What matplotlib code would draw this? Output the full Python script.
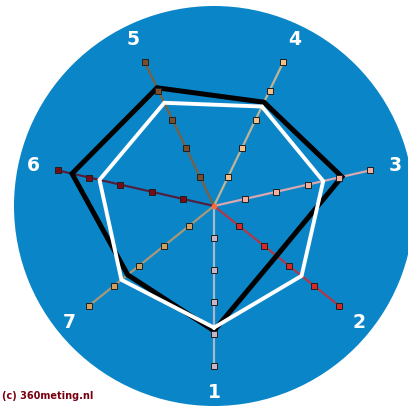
import numpy as np
import matplotlib
matplotlib.use('Agg')
import matplotlib.pyplot as plt

# spokes 1..7, scale 0..5
labels = ['1', '2', '3', '4', '5', '6', '7']
levels = [1, 2, 3, 4, 5]
black_vals = [3.9, 2.5, 4.1, 3.6, 4.1, 4.55, 3.45]
white_vals = [3.8, 3.5, 3.5, 3.45, 3.58, 3.67, 3.7]

line_colors = ['#a8b8cc', '#b03848', '#d8a8b0', '#c0b494', '#7a6040', '#502040', '#a89878']
marker_colors = ['#c8b4c4', '#d82828', '#f0b0a0', '#f0c088', '#7a4e2c', '#7a0a14', '#d0a060']

fig = plt.figure(figsize=(4.08, 4.10), dpi=100)
fig.patch.set_facecolor('white')

# blue disc = polar axes, radius 200 px, centre at (214, 207)
ax = fig.add_axes([14 / 408, 3 / 410, 400 / 408, 400 / 410], projection='polar')
ax.set_facecolor('#0a86c8')
ax.set_theta_zero_location('S')
ax.set_theta_direction(1)
ax.set_ylim(0, 6.25)
ax.grid(False)
ax.set_xticks([])
ax.set_yticks([])
ax.spines['polar'].set_visible(False)

n = len(labels)
angles = np.arange(n) * 2 * np.pi / n

# spokes
for i in range(n):
    ax.plot([angles[i], angles[i]], [0, levels[-1]], color=line_colors[i], lw=1.6, zorder=2)

# polygons
ang_closed = np.append(angles, angles[0])
ax.plot(ang_closed, black_vals + black_vals[:1], color='black', lw=3.6,
        solid_joinstyle='miter', zorder=3)
ax.plot(ang_closed, white_vals + white_vals[:1], color='white', lw=2.8,
        solid_joinstyle='miter', zorder=4)

# markers on the spokes
for i in range(n):
    ax.plot([angles[i]] * len(levels), levels, linestyle='none', marker='s',
            markersize=4.6, markerfacecolor=marker_colors[i],
            markeredgecolor='#202020', markeredgewidth=0.7, zorder=5)

ax.plot([0], [0], marker='o', markersize=3, color='#ff6a3a', zorder=6)

# spoke labels
for i in range(n):
    ax.text(angles[i], 5.8, labels[i], color='white', fontsize=13.5,
            fontweight='bold', ha='center', va='center', zorder=6)

fig.text(2 / 408, 1 - 396 / 410, '(c) 360meting.nl', color='#7a0010',
         fontsize=7, fontweight='bold', ha='left', va='center')

fig.savefig('out.png', dpi=100)
